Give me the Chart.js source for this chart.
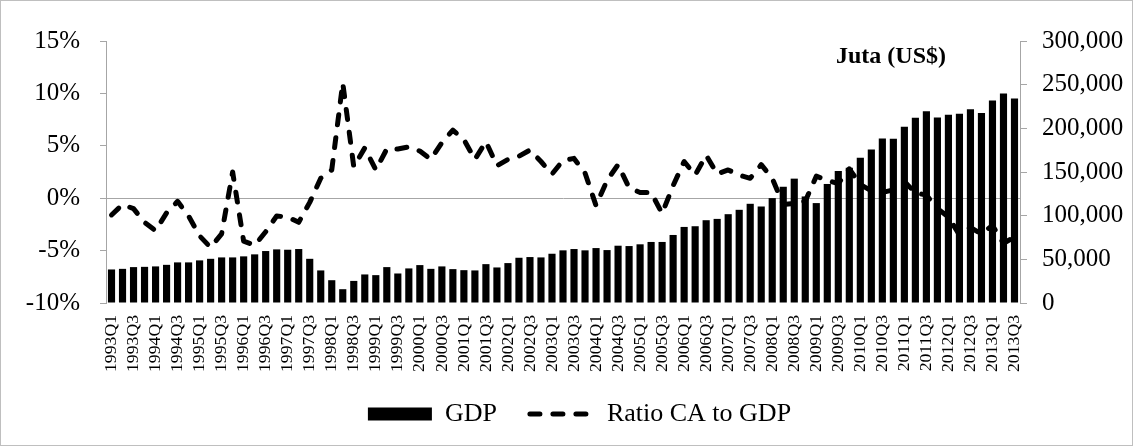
<!DOCTYPE html>
<html lang="en">
<head>
  <meta charset="UTF-8">
  <title>GDP and Ratio CA to GDP</title>
  <script src="https://cdn.jsdelivr.net/npm/chart.js"></script>
  <style>
    body { margin: 0; background: #fff; }
    /* outer frame round the whole chart */
    .chart-box {
      width: 1133px;
      height: 446px;
      box-sizing: border-box;
      border: 1px solid #bfbfbf;
      position: relative;
    }
  </style>
</head>
<body>
  <div class="chart-box"><canvas id="gdpChart"></canvas></div>

  <script>
    // quarters on the x axis
    const quarters = [
      '1993Q1','1993Q2','1993Q3','1993Q4','1994Q1','1994Q2','1994Q3','1994Q4',
      '1995Q1','1995Q2','1995Q3','1995Q4','1996Q1','1996Q2','1996Q3','1996Q4',
      '1997Q1','1997Q2','1997Q3','1997Q4','1998Q1','1998Q2','1998Q3','1998Q4',
      '1999Q1','1999Q2','1999Q3','1999Q4','2000Q1','2000Q2','2000Q3','2000Q4',
      '2001Q1','2001Q2','2001Q3','2001Q4','2002Q1','2002Q2','2002Q3','2002Q4',
      '2003Q1','2003Q2','2003Q3','2003Q4','2004Q1','2004Q2','2004Q3','2004Q4',
      '2005Q1','2005Q2','2005Q3','2005Q4','2006Q1','2006Q2','2006Q3','2006Q4',
      '2007Q1','2007Q2','2007Q3','2007Q4','2008Q1','2008Q2','2008Q3','2008Q4',
      '2009Q1','2009Q2','2009Q3','2009Q4','2010Q1','2010Q2','2010Q3','2010Q4',
      '2011Q1','2011Q2','2011Q3','2011Q4','2012Q1','2012Q2','2012Q3','2012Q4',
      '2013Q1','2013Q2','2013Q3'
    ];

    // GDP, juta US$ (right axis)
    const gdp = [
      38400, 39100, 41100, 41400, 41900, 43700, 46500, 46500,
      48800, 50600, 52200, 52200, 53400, 55700, 59500, 61400,
      61000, 61800, 50600, 37300, 26100, 15800, 25300, 32700,
      31900, 41100, 33800, 39600, 43400, 39100, 41900, 38800,
      37600, 37300, 44500, 40700, 45700, 51800, 52600, 52200,
      56400, 60300, 61800, 60300, 62900, 60600, 65600, 65200,
      67200, 69900, 69900, 77900, 87100, 87900, 94800, 96300,
      101700, 106700, 113600, 110500, 120100, 133100, 142400, 122000,
      114400, 136300, 151200, 155000, 166200, 175700, 188400, 188000,
      201800, 212200, 219500, 212500, 215600, 216800, 221800, 217500,
      231800, 239800, 234100
    ];

    // current account to GDP, % (left axis)
    const ratioCA = [
      -1.6, -0.6, -1.0, -2.3, -3.1, -1.4, -0.3, -1.7,
      -3.6, -4.7, -3.4, 2.5, -4.1, -4.5, -3.2, -1.7,
      -1.8, -2.3, -0.4, 1.9, 2.7, 11.0, 3.0, 4.8,
      2.7, 4.7, 4.7, 4.9, 4.5, 3.7, 5.3, 6.5,
      5.6, 3.7, 5.4, 3.1, 3.7, 4.0, 4.6, 3.5,
      2.3, 3.6, 3.8, 2.4, -0.7, 1.7, 3.2, 1.0,
      0.55, 0.55, -1.45, 1.2, 3.5, 2.2, 4.1, 2.3,
      2.7, 2.2, 1.9, 3.2, 1.9, -0.6, -0.5, -0.3,
      2.1, 1.7, 1.4, 2.8, 1.3, 0.7, 0.55, 0.8,
      1.6, 0.5, 0.3, -1.0, -1.8, -3.5, -2.8, -3.4,
      -2.6, -4.3, -3.7
    ];

    const unitLabel = 'Juta (US$)';
    const axisGrey = '#a6a6a6';

    Chart.defaults.font.family = "'Liberation Serif', 'Times New Roman', serif";
    Chart.defaults.color = '#000';

    // unit text inside the plot, upper right
    const unitLabelPlugin = {
      id: 'unitLabel',
      afterDraw(chart) {
        const { ctx, chartArea } = chart;
        ctx.save();
        ctx.font = "bold 24px 'Liberation Serif', serif";
        ctx.fillStyle = '#000';
        ctx.textBaseline = 'alphabetic';
        ctx.fillText(unitLabel, chartArea.right - 184, chartArea.top + 22);
        ctx.restore();
      }
    };

    // nudge the legend a little right and up, as in the original
    const legendNudgePlugin = {
      id: 'legendNudge',
      afterLayout(chart) {
        const lg = chart.legend;
        lg.left += 26;
        lg.top -= 5;
        lg.bottom -= 5;
      }
    };

    const ctx = document.getElementById('gdpChart').getContext('2d');
    new Chart(ctx, {
      type: 'bar',
      data: {
        labels: quarters,
        datasets: [
          {
            type: 'bar',
            label: 'GDP',
            data: gdp,
            yAxisID: 'y1',
            backgroundColor: '#000',
            barPercentage: 0.65,
            categoryPercentage: 1,
            order: 2
          },
          {
            type: 'line',
            label: 'Ratio CA to GDP',
            data: ratioCA,
            yAxisID: 'y',
            borderColor: '#000',
            borderWidth: 5,
            borderDash: [10, 13],
            borderCapStyle: 'round',
            borderJoinStyle: 'round',
            pointRadius: 0,
            tension: 0,
            fill: false,
            order: 1
          }
        ]
      },
      options: {
        responsive: true,
        maintainAspectRatio: false,
        animation: false,
        layout: { padding: { top: 40, left: 0, right: 0, bottom: 3 } },
        plugins: {
          tooltip: { enabled: false },
          legend: {
            position: 'bottom',
            labels: {
              usePointStyle: true,
              pointStyleWidth: 64,
              boxHeight: 13,
              padding: 33,
              font: { size: 26 },
              generateLabels: chart => chart.data.datasets.map((ds, i) => ({
                text: ds.label,
                datasetIndex: i,
                fillStyle: ds.type === 'line' ? 'rgba(0,0,0,0)' : '#000',
                strokeStyle: '#000',
                lineWidth: ds.type === 'line' ? 5 : 0,
                lineDash: ds.type === 'line' ? [10, 13] : [],
                lineCap: 'round',
                pointStyle: ds.type === 'line' ? 'line' : 'rect',
                hidden: false
              }))
            }
          }
        },
        scales: {
          x: {
            type: 'category',
            offset: true,
            grid: { display: false, drawTicks: false },
            border: { display: false },
            ticks: {
              autoSkip: false,
              minRotation: 90,
              maxRotation: 90,
              padding: 12,
              font: { size: 17.7 },
              callback: (val, i) => (i % 2 === 0 ? quarters[i] : '')
            },
            afterFit: s => { s.height = 70; }
          },
          y: {
            position: 'left',
            min: -10,
            max: 15,
            ticks: {
              stepSize: 5,
              padding: 20,
              font: { size: 25 },
              callback: v => v + '%'
            },
            grid: {
              color: c => (c.tick && c.tick.value === 0 ? axisGrey : 'rgba(0,0,0,0)'),
              tickColor: axisGrey,
              tickLength: 6,
              lineWidth: 1
            },
            border: { color: axisGrey },
            afterFit: s => { s.width = 105; }
          },
          y1: {
            position: 'right',
            min: 0,
            max: 300000,
            ticks: {
              stepSize: 50000,
              padding: 15,
              font: { size: 25 },
              callback: v => v.toLocaleString('en-US')
            },
            grid: { drawOnChartArea: false, tickColor: axisGrey, tickLength: 7 },
            border: { color: axisGrey },
            afterFit: s => { s.width = 112; }
          }
        }
      },
      plugins: [unitLabelPlugin, legendNudgePlugin]
    });
  </script>
</body>
</html>
